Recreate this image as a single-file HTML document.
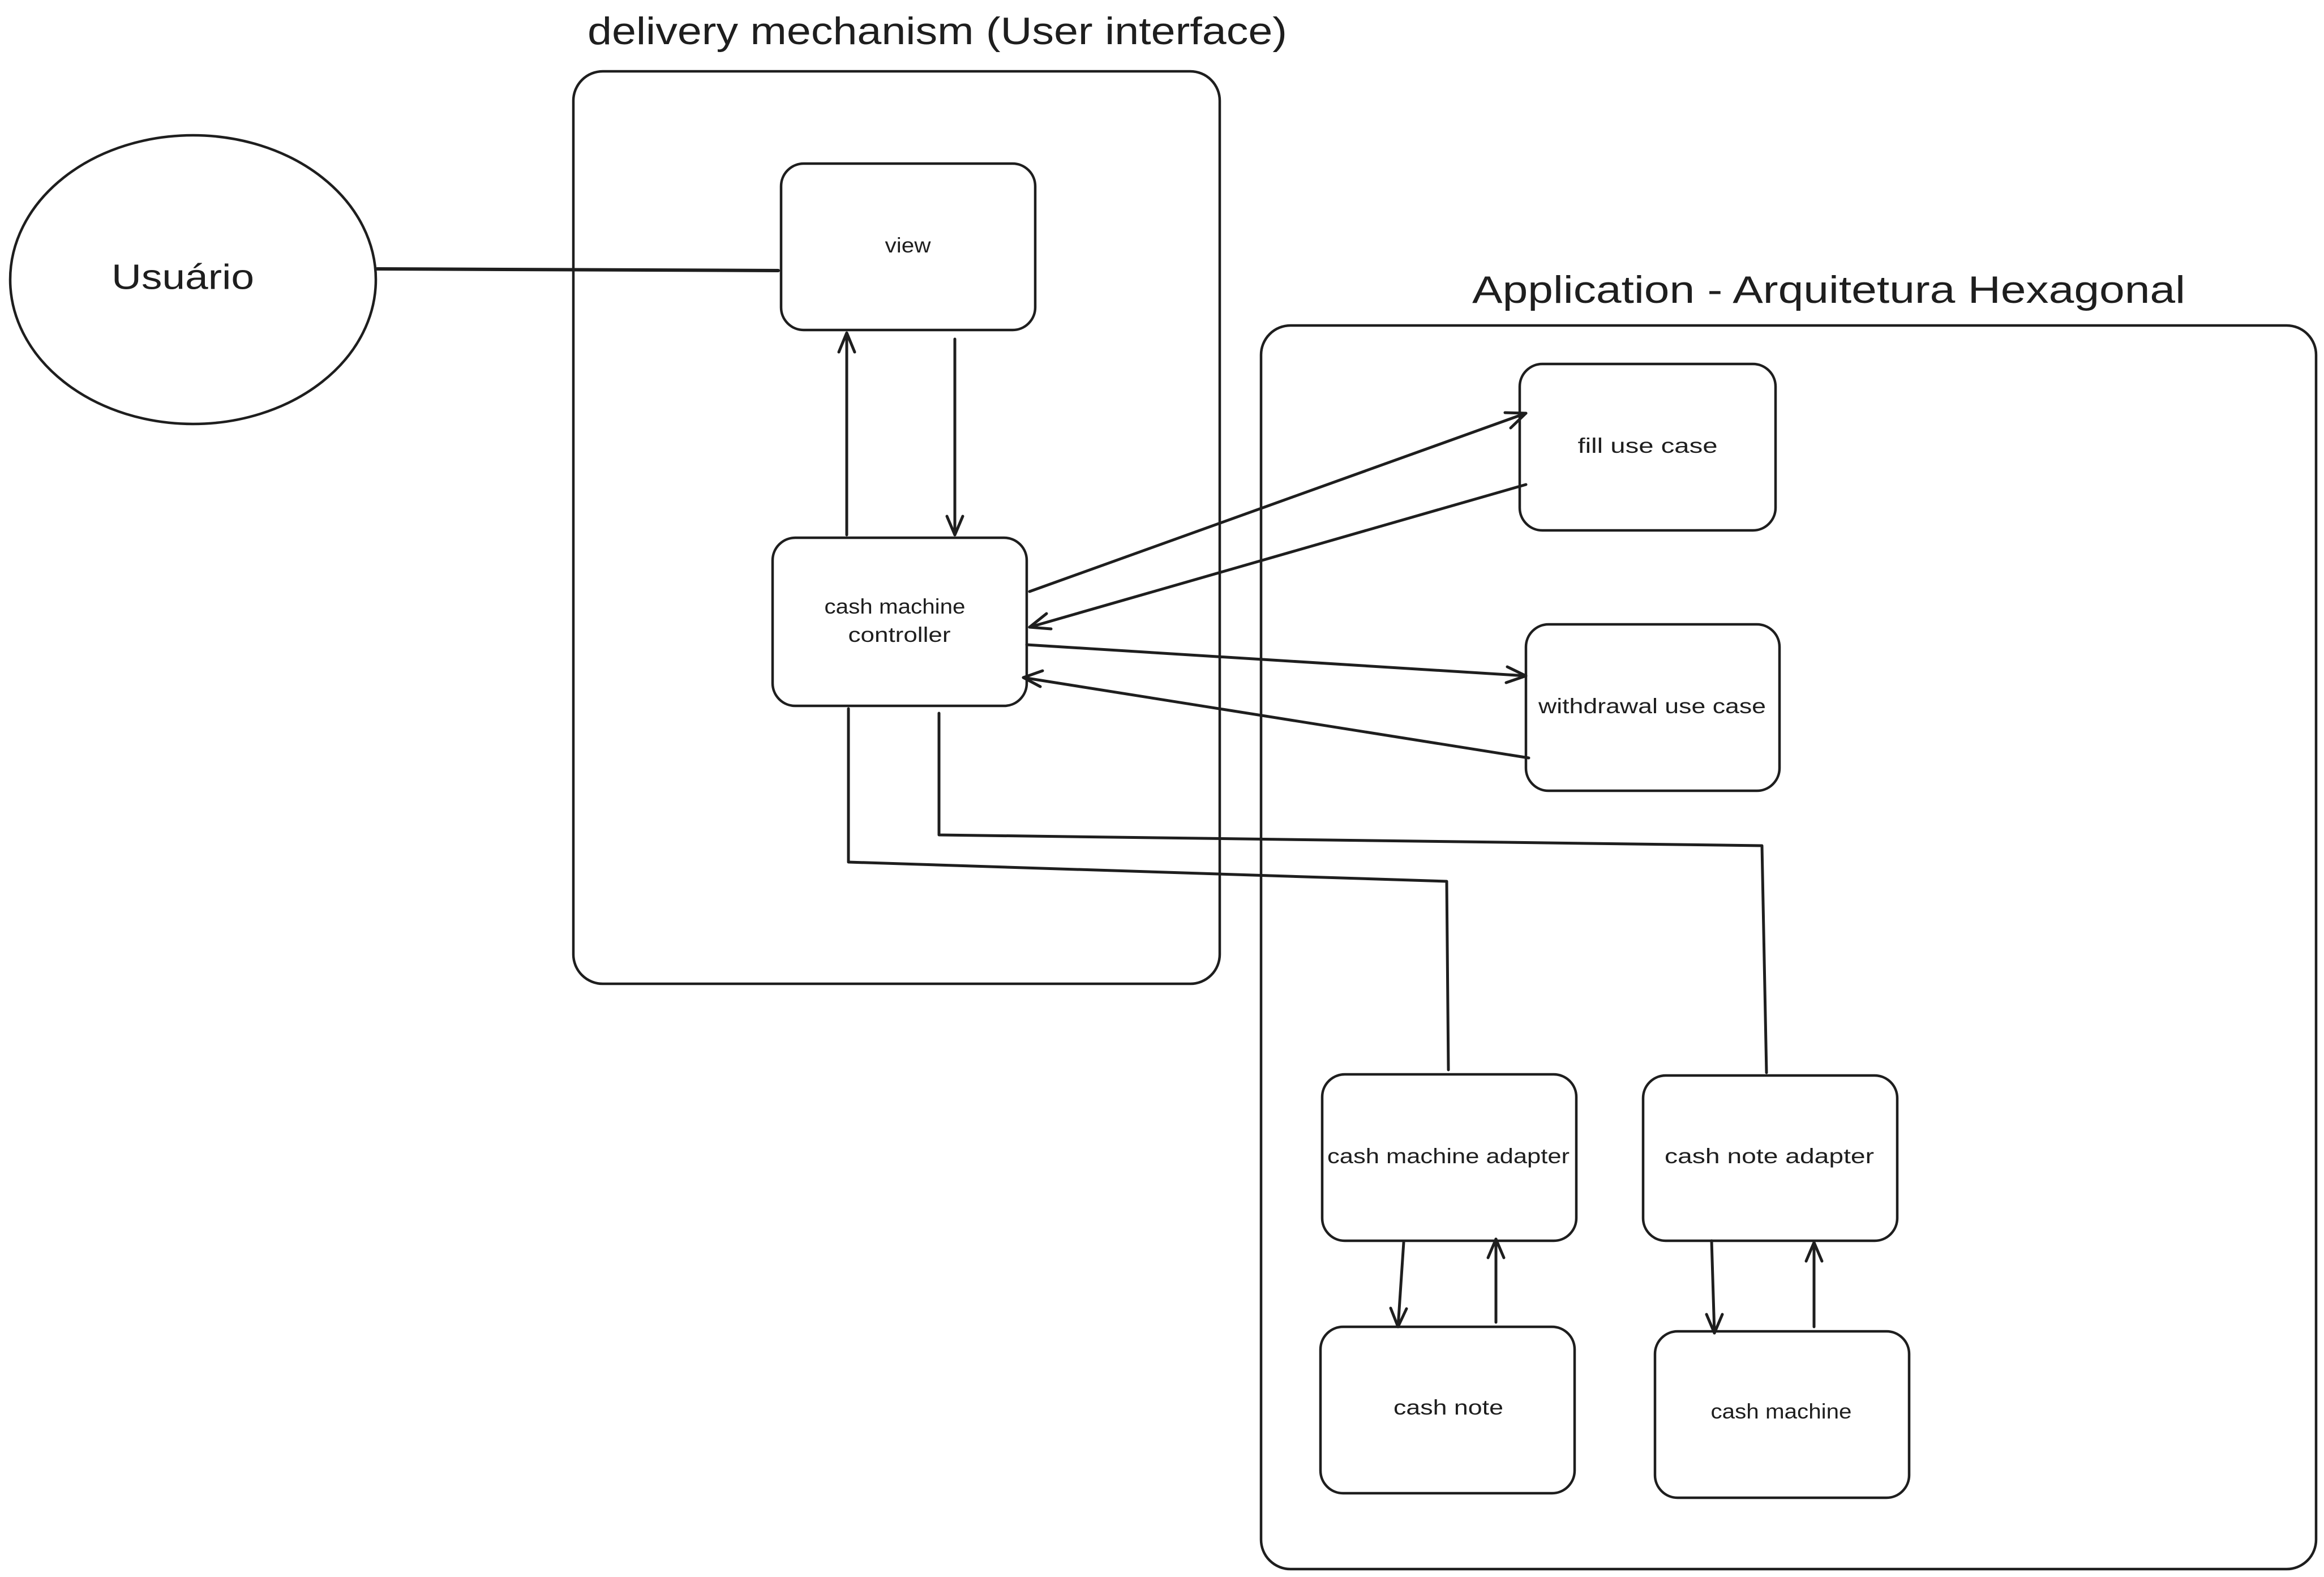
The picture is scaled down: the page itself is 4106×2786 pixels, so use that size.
<!DOCTYPE html>
<html><head><meta charset="utf-8"><style>
html,body{margin:0;padding:0;background:#fff;}
svg{display:block;}
text{font-family:"Liberation Sans",sans-serif;fill:#1e1e1e;}
</style></head><body>
<svg width="4106" height="2786" viewBox="0 0 4106 2786" xmlns="http://www.w3.org/2000/svg">
<g transform="translate(-3,0)">
<g fill="none" stroke="#1e1e1e" stroke-width="4.5" stroke-linecap="round" stroke-linejoin="round">
<rect x="1016" y="126" width="1142" height="1612" rx="52"/>
<rect x="2231" y="575" width="1864" height="2197" rx="52"/>
<ellipse cx="344" cy="494" rx="323" ry="255"/>
<line x1="669" y1="475" x2="1378" y2="478" stroke-width="6"/>
<rect x="1383" y="289" width="449" height="294" rx="40"/>
<rect x="1368" y="950" width="449" height="297" rx="40"/>
<rect x="2688" y="643" width="452" height="294" rx="40"/>
<rect x="2699" y="1103" width="448" height="294" rx="40"/>
<rect x="2339" y="1898" width="449" height="294" rx="40"/>
<rect x="2906" y="1900" width="449" height="292" rx="40"/>
<rect x="2336" y="2344" width="449" height="294" rx="40"/>
<rect x="2927" y="2352" width="449" height="294" rx="40"/>
<g stroke-width="5">
<line x1="1499" y1="945" x2="1499" y2="590"/><polyline points="1485,622 1499,588 1513,622"/>
<line x1="1690" y1="599" x2="1690" y2="945"/><polyline points="1676,912 1690,945 1704,912"/>
<line x1="1822" y1="1045" x2="2699" y2="730"/><polyline points="2662,729 2699,730 2672,756"/>
<line x1="2699" y1="856" x2="1822" y2="1108"/><polyline points="1852,1084 1822,1108 1860,1111"/>
<line x1="1817" y1="1139" x2="2699" y2="1194"/><polyline points="2666,1178 2699,1194 2664,1206"/>
<line x1="2704" y1="1339" x2="1811" y2="1197"/><polyline points="1845,1185 1811,1197 1841,1213"/>
<polyline points="1502,1252 1502,1523 2559,1557 2562,1890"/>
<polyline points="1662,1260 1662,1475 3116,1494 3124,1895"/>
<line x1="2483" y1="2195" x2="2473" y2="2344"/><polyline points="2460,2311 2473,2344 2488,2312"/>
<line x1="2646" y1="2336" x2="2646" y2="2189"/><polyline points="2632,2222 2646,2189 2660,2222"/>
<line x1="3027" y1="2192" x2="3032" y2="2355"/><polyline points="3018,2322 3032,2355 3046,2322"/>
<line x1="3208" y1="2344" x2="3208" y2="2195"/><polyline points="3194,2228 3208,2195 3222,2228"/>
</g>
</g>
<g text-anchor="middle" dominant-baseline="middle" lengthAdjust="spacingAndGlyphs">
<text x="1659" y="60" font-size="68" textLength="1236" lengthAdjust="spacingAndGlyphs">delivery mechanism (User interface)</text>
<text x="3234" y="517" font-size="68" textLength="1260" lengthAdjust="spacingAndGlyphs">Application - Arquitetura Hexagonal</text>
<text x="326" y="494" font-size="62" textLength="252" lengthAdjust="spacingAndGlyphs">Usuário</text>
<text x="1607" y="436" font-size="37" textLength="81" lengthAdjust="spacingAndGlyphs">view</text>
<text x="1584" y="1074" font-size="37" textLength="249" lengthAdjust="spacingAndGlyphs">cash machine</text>
<text x="1592" y="1124" font-size="37" textLength="181" lengthAdjust="spacingAndGlyphs">controller</text>
<text x="2914" y="790" font-size="37" textLength="247" lengthAdjust="spacingAndGlyphs">fill use case</text>
<text x="2922" y="1250" font-size="37" textLength="402" lengthAdjust="spacingAndGlyphs">withdrawal use case</text>
<text x="2562" y="2045" font-size="37" textLength="428" lengthAdjust="spacingAndGlyphs">cash machine adapter</text>
<text x="3129" y="2045" font-size="37" textLength="370" lengthAdjust="spacingAndGlyphs">cash note adapter</text>
<text x="2562" y="2489" font-size="37" textLength="194" lengthAdjust="spacingAndGlyphs">cash note</text>
<text x="3150" y="2496" font-size="37" textLength="249" lengthAdjust="spacingAndGlyphs">cash machine</text>
</g>
</g>
</svg>
</body></html>
